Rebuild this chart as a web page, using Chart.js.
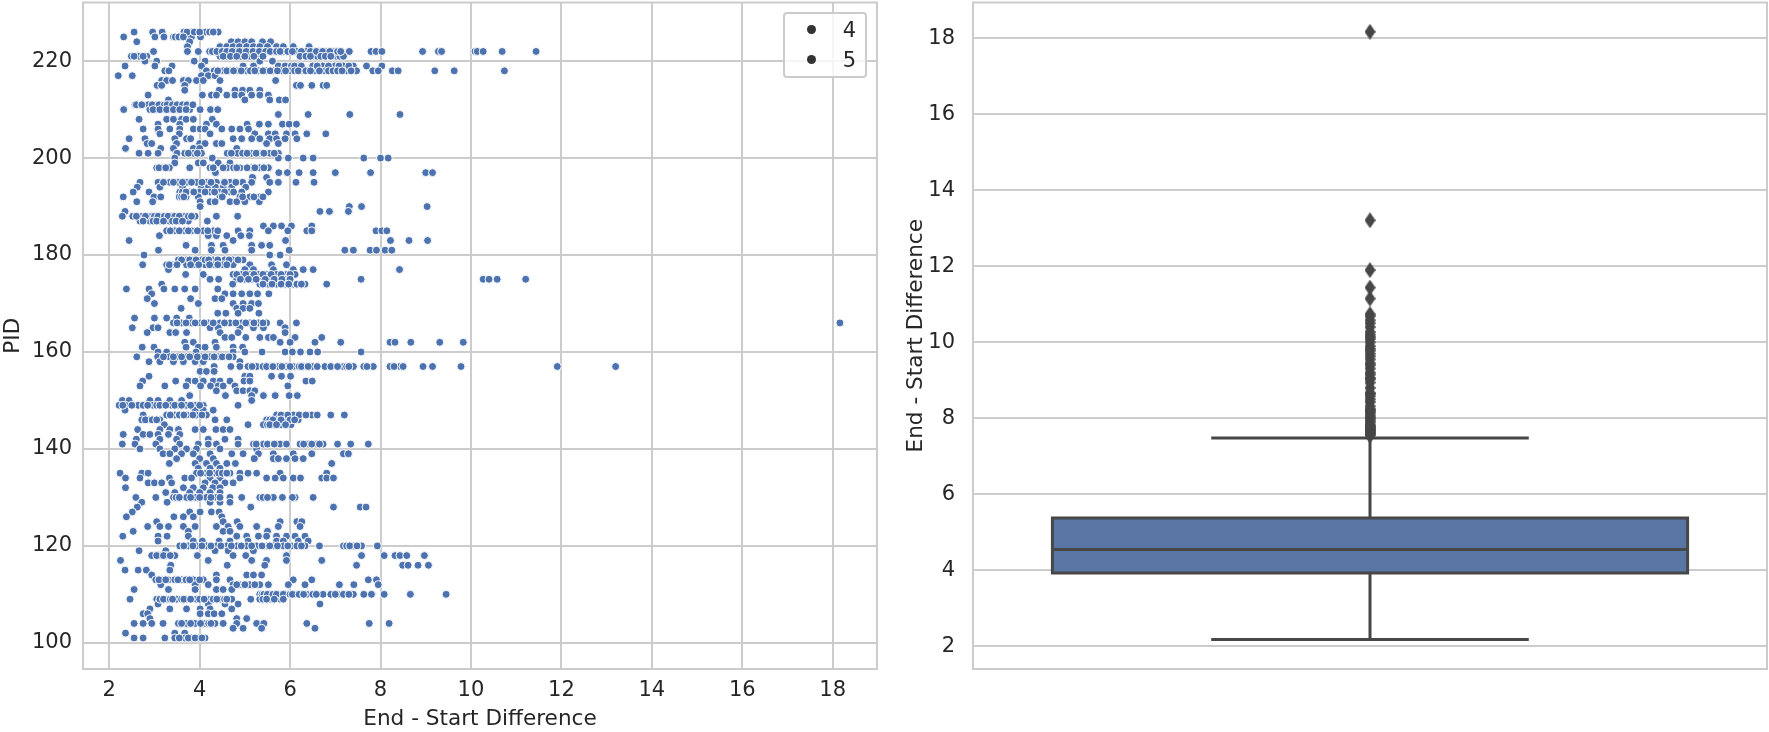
<!DOCTYPE html>
<html>
<head>
<meta charset="utf-8">
<title>End - Start Difference</title>
<script src="https://cdn.jsdelivr.net/npm/chart.js@4/dist/chart.umd.min.js"></script>
<style>
    html, body { margin: 0; background: #fff; }
    #page { position: relative; width: 1769px; height: 732px; overflow: hidden; }
    canvas { position: absolute; top: 0; }
    #scatter { left: 0; }
    #box { left: 890px; }
    #legend {
        position: absolute; left: 783px; top: 12px; width: 80px; height: 62px;
        background: rgba(255, 255, 255, .8); border: 2px solid #ccc; border-radius: 4px;
        font: 21px "DejaVu Sans"; color: #262626;
    }
    #legend div { position: absolute; left: 0; width: 71px; text-align: right; line-height: 24px; }
    #legend i {
        position: absolute; left: 22px; top: 7px; width: 9px; height: 9px;
        border-radius: 50%; background: #333;
    }
</style>
</head>
<body>
<div id="page">
    <canvas id="scatter" width="890" height="732"></canvas>
    <canvas id="box" width="879" height="732"></canvas>
    <div id="legend"></div>
</div>
<script>
const pids = [226,225,224,223,222,221,220,219,218,217,216,215,214,213,212,211,210,209,208,207,206,205,204,203,202,
    201,200,199,198,197,196,195,194,193,192,191,190,189,188,187,186,185,184,183,182,181,180,179,178,177,176,175,174,173,172,171,
    170,169,168,167,166,165,164,163,162,161,160,159,158,157,156,155,154,153,152,151,150,149,148,147,146,145,144,143,142,141,140,
    139,138,137,136,135,134,133,132,131,130,129,128,127,126,125,124,123,122,121,120,119,118,117,116,115,114,113,112,111,110,109,108,107,106,105,104,103,102,101];

// one row of differences per PID, same order as pids
const diffs = [
    [2.55,2.96,3.17,3.65,3.82,3.93,4.13,4.34,4.41],
    [2.32,3.01,3.21,3.42,3.49,3.58,3.71,3.82,4.02],
    [2.61,3.78,4.7,4.85,5,5.15,5.39,5.57],
    [3.73,4.45,4.6,4.74,4.88,5.04,5.19,5.33,5.5,5.7,5.85,6.07,6.42],
    [2.98,3.73,3.97,4.22,4.33,4.44,4.55,4.66,4.81,4.95,5.1,5.25,5.4,5.62,5.85,6.14,6.36,6.51,6.65,6.8,6.98,7.31,7.79,7.9,8.03,8.93,9.28,9.35,10.09,10.14,10.27,10.69,11.44],
    [2.49,2.66,2.83,4.45,4.6,4.74,4.9,5.11,5.3,6.29,6.4,6.51,6.6,6.73,6.85,6.95,7.03,7.1,7.18],
    [2.79,3.05,3.88,4.12,5.33,5.61],
    [2.35,3.01,3.39,4.04,4.96,5.19,5.74,5.89,6.03,6.18,6.5,6.72,6.99,7.18,7.4,7.69,8.03],
    [3.23,3.32,4.15,4.32,4.52,4.67,4.82,5.04,5.3,5.48,5.63,5.81,6,6.25,6.55,6.77,7.25,7.47,7.83,7.95,8.26,8.39,9.2,9.63,10.74],
    [2.2,2.51,4.04,4.19,4.34],
    [3.16,3.27,3.4,3.64,3.75,3.93,4.08,4.45,5.68],
    [3.06,3.16,3.67,6.14,6.23,6.48,6.73,6.81],
    [3.67,4.43,4.78,4.95,5.11,5.33],
    [2.86,4.06,4.26,4.37,4.6,4.78,4.93,5.15,5.33,5.52],
    [3.31,5,5.55,5.76,5.9],
    [2.57,2.66,2.86,3.04,3.14,3.34,3.45,3.56,3.67,3.78],
    [2.32,2.9,3.05,3.19,3.34,3.49,3.64,3.78,4.01,4.24,4.4],
    [5.74,6.4,7.32,8.43],
    [2.66,3.27,3.42,3.6,3.7,3.86,4.28],
    [3.08,3.56,4.15,4.37,5.05,5.32,5.52,5.83,5.98,6.14],
    [2.75,3.08,3.34,3.56,3.86,4.01,4.12,4.49,4.71,4.89,5.08],
    [3.12,3.55,4.23,5.22,5.52,5.67,5.92,6.11,6.37,6.79],
    [2.44,2.79,3.45,3.71,3.8,4.74,4.93,5.15,5.33,5.55,5.7,5.89,6.15],
    [2.84,2.94,3.49,4,4.12,4.37,4.49,5.48,5.74],
    [2.36,3.14,3.42,3.86,4,4.82],
    [2.66,2.86,3.08,3.5,3.67,3.86,4.04,4.61,4.84,5.15,5.33,5.55,5.74],
    [3.45,4.28,5.74,5.96,6.29,6.51,7.63,8,8.17],
    [3.45,3.97,4.08,4.41,4.67],
    [3.05,3.19,3.33,3.78,4.23,4.6,4.89,5.15,5.33,5.52],
    [4.35,5.75,5.94,6.2,6.51,7,7.78,9,9.15],
    [5.17,5.48],
    [2.68,3.08,3.34,3.53,3.71,3.93,4.15,4.37,4.67,4.95,5.15,5.55,5.74,6.13,6.53],
    [2.62,3.12,3.62,4.04,4.19,4.35,4.52,4.71,5.02],
    [2.53,2.88,3.56,3.78,4,4.23,4.45,4.67,4.93,5.52],
    [2.31,2.99,3.14,3.55,3.7,3.97,4.45,4.89,5.11,5.33],
    [2.61,2.96,4.01,4.23,4.34,4.67,4.82,5,5.32],
    [4.01,7.31,7.58,9.03],
    [2.35,6.66,6.87,7.29],
    [2.29,2.52,2.72,2.94,3.16,3.38,3.67,3.9,4.37,4.84],
    [2.68,2.9,3.12,3.33,3.55,3.75,4.17],
    [5.41,5.63,5.81,6.03,6.48],
    [3.27,3.45,3.67,3.82,4.08,4.3,4.85,5.11,5.52,5.95,6.37,6.48,7.9,8.03,8.14],
    [3.11,4.19,4.37,4.6,4.91,5.1],
    [2.44,4.74,5.9,8.22,8.63,9.04],
    [3.7,4.26,4.52,5.15,5.37,5.55],
    [3.09,3.9,4.26,4.56,5.15,5.98,7.21,7.4,7.77,7.91,8.1,8.25],
    [2.77,5.55,5.78],
    [3.53,3.71,3.84,4.04,4.3,4.56,4.73,4.96],
    [2.74,3.27,3.4,3.71,3.9,4.12,4.3,4.52,4.74,5.11,5.59,5.92],
    [3.31,5,5.19,5.63,6.07,6.29,6.51,8.42],
    [3.69,4.08,4.74,4.93,5.11,5.3,5.48,5.7,5.92,6.11],
    [4.23,4.42,4.82,5,5.15,5.33,5.55,5.74,5.92,7.57,10.27,10.4,10.58,11.21],
    [3.16,4.73,5.33,5.52,5.7,5.89,6.07,6.33,6.81],
    [2.38,2.88,3.21,3.45,3.67,3.9,4.4],
    [2.94,4.56,4.74,4.93,5.11,5.28,5.53],
    [2.84,3.8,4.34,4.49],
    [3,3.97,4.74,4.96,5.15,5.3],
    [3.59,4.82,4.96,5.11],
    [4.4,4.58,4.85,5.31],
    [2.56,3,3.27,3.49,3.77],
    [3.42,3.6,3.82,4.01,4.19,4.45,4.67,4.93,5.11,5.3,5.48,5.78,6.14,18.16],
    [2.51,2.97,3.08,4.23,4.41,4.89,5.19,5.41,5.89],
    [2.84,3.34,3.47,3.71,4.45,4.85,5.89],
    [4.56,4.71,5.02,5.33,5.52,5.63,6.11,6.7],
    [3.67,3.86,4.34,5.78,6,6.55,7.12,8.21,8.32,8.67,9.31,9.83],
    [2.73,2.99,3.7,3.97,4.12,4.37,4.74,4.95],
    [3.08,3.27,3.92,4.74,5,5.38,5.89,6.05,6.23,6.44,6.61,7.57],
    [2.61,3.07,3.33,3.5,3.71,3.86,4.04,4.23,4.41,4.56,4.74],
    [2.88,3.12,3.42,3.64,3.9,4.08,4.89],
    [4.32,4.69,4.89,5.07,5.26,5.54,5.74,5.92,6.07,6.33,6.49,6.77,7.18,7.4,7.63,7.84,8.21,8.43,8.94,9.15,9.78,11.91,13.2],
    [4.01,4.15,4.32],
    [2.88,5,5.11,5.59,5.81,6.01],
    [2.74,3.47,3.75,3.9,4.08,4.3,4.45,4.67,4.98,5.11,6.35,6.49],
    [2.68,3.23,3.7,4.02,4.24,4.41,4.52,4.78,5.95],
    [4.37,4.82,4.96,5.11,5.22],
    [3.78,4.57,5.15,5.41,5.67,5.98,6.16],
    [2.29,2.44,2.9,3.08,3.34,3.6,5.15],
    [2.22,2.36,2.64,2.97,3.19,3.38,3.53,3.7,3.91,4.08,4.85],
    [2.35,3.9,4.08,4.3],
    [2.75,3.27,3.45,3.71,3.93,4.15,5.7,6.07,6.48,6.9,7.2],
    [2.72,2.88,3.12,4.34,4.6,5.48,5.7,5.92,6.18],
    [3.22,5.07,5.41,5.63,5.81,6.02],
    [2.63,3.12,3.34,3.53,3.9,4.08,4.36,4.52,4.67],
    [2.31,2.75,2.9,3.08,3.31,3.56],
    [2.6,3.12,3.49,4.19,4.56,4.85],
    [2.29,2.57,3.03,3.56,3.97,4.19,4.37,4.85,5.19,5.41,5.78,5.92,6.22,6.4,6.58,6.73,7.05,7.34,7.73],
    [2.68,3.12,3.45,3.71,3.93,4.45,5.26],
    [3.19,3.34,3.6,3.86,4.23,4.71,4.96,5.3,5.63,6.07,6.48,7.18,7.29],
    [3.49,4,4.3,5.21,5.63,5.74,5.92,6.11,6.29],
    [3.33,3.9,4.15,4.37,4.6,4.79,6.92],
    [3.97,4.23,4.45],
    [2.24,2.72,2.86,3.93,4.15,4.34,4.67,4.89,5.07,5.26,5.78,6.81],
    [2.36,2.68,3.33,3.67,3.82,4.23,4.45,4.89,5.48,5.67,5.85,6.07,6.23,6.7,6.81,6.96],
    [2.86,3,3.16,3.38,4.12,4.34,4.56,4.74],
    [2.36,3.64,3.86,4.08,4.29,4.45],
    [3.25,3.45,3.78,4,4.23,4.45],
    [2.59,3.03,3.42,3.71,3.92,4.15,4.37,4.67,4.93,5.33,5.63,5.83,6.11,6.51],
    [2.72,3.28,4.23,4.45,4.67],
    [2.62,5.13,6.96,7.55,7.68],
    [2.51,3.78,4.01,4.26,4.43],
    [2.38,3.43,3.64,3.86,4.49],
    [3.05,4.52,4.83,5.78,6.15,6.26],
    [2.85,3.12,3.31,3.64,3.9,4.37,4.63,4.89,5.26,5.74,6.22],
    [2.53,3.75,4.52,4.67,5.5],
    [2.3,3.08,3.28,3.75,4.82,5.04,5.3,5.48,5.7,5.92,6.11,6.33],
    [3.08,3.86,4.06,4.43,4.67,5.07,5.7,5.85,6.18,6.4],
    [3.56,3.75,3.93,4.15,4.37,4.6,4.82,5.04,5.26,5.48,5.63,5.85,6.03,6.33,6.65,7.18,7.4,7.58,7.93],
    [2.66,3.25,4.34,4.63,5.19],
    [2.94,3.12,3.27,3.45,3.95,4.74,5.02,5.92,7.58,8.08,8.32,8.43,8.58,8.97],
    [2.25,4.19,5.15,5.48,5.92,6.7],
    [3.36,4.61,5.44,7.47,8.49,8.61,8.83,9.06],
    [2.35,2.64,2.82,3.34],
    [2.94,4.37,5.04,5.19,5.37],
    [3.03,3.16,3.31,3.6,3.86,4.08,4.37,4.67,6.07,6.48,7.73,7.91],
    [3.14,3.9,4.19,4.74,4.89,5.11,5.33,5.52,5.96,6.33,7.09,7.41,7.95],
    [2.55,3.31,3.9,4.37,4.52,4.71],
    [5.33,5.45,5.55,5.78,5.9,6.11,6.37,6.5,6.73,6.9,7.05,7.18,7.4,7.63,7.8,8.08,8.66,9.45],
    [2.46,3.05,3.27,3.49,3.71,3.93,4.23,4.45,4.71,5.13,5.33,5.55,5.78],
    [3.08,4.19,4.56,4.85,6.66],
    [2.9,3.34,3.71,4.01,4.23,4.71],
    [2.75,2.85,4.01,4.19,4.32,4.49],
    [2.9,4.82,5.04],
    [2.55,2.75,2.94,3.19,3.53,3.71,3.9,4.12,4.34,4.52,4.82,5.26,5.42,6.37,7.75,8.19],
    [4.74,4.96,5.37,6.55],
    [2.36,3.45,3.67],
    [2.55,2.75,3.23,3.45,3.67,3.82,3.97,4.12]
];

// the rows where dots run together, read from the overlapping chains
const densePids = [226,225,222,221,219,218,211,210,201,198,195,193,192,188,187,185,179,178,176,175,174,166,159,157,149,147,146,145,141,135,130,120,118,113,112,110,109,104,101];
const denseDiffs = [
    [3.72,3.88,4,4.22,4.3],
    [3.46,3.54,3.64],
    [4.28,4.38,4.5,4.6,4.72,4.88,5.03,5.18,5.32,5.46,5.56,5.7,5.78,5.95,6.05,6.25,6.45,6.58,6.72,6.88,7.05,7.12],
    [2.55,2.75,4.52,4.68,4.82,5,5.2,5.4,6.22,6.35,6.45,6.68,6.78,6.9],
    [6.1,6.25,6.6,6.85,7.08,7.3],
    [4.4,4.6,4.75,4.92,5.12,5.22,5.4,5.56,5.72,5.9,6.1,6.18,6.35,6.45,6.65,6.85,6.95,7.05,7.15,7.35],
    [2.6,2.72,2.95,3.1,3.22,3.28,3.4,3.5,3.62,3.72,3.85],
    [2.97,3.12,3.27,3.42,3.56,3.7],
    [3.75,3.95,4.7,4.95,5.05,5.25,5.42,5.65],
    [3.1,3.25,4.3,4.52,4.75,4.82,5.05,5.22,5.42],
    [3.2,3.42,3.62,3.82,4.05,4.25,4.55,4.8],
    [3.62,3.7,3.87,4.12,4.33,4.55,4.75],
    [3.6,3.65,4.5,4.95,5.2,5.4],
    [2.6,2.8,3,3.08,3.22,3.3,3.45,3.55,3.75,3.82],
    [2.75,2.97,3.05,3.2,3.4,3.48,3.62],
    [3.35,3.55,3.75,3.95,4.18,4.4],
    [3.6,3.78,3.92,4.12,4.2,4.4,4.65,4.85],
    [3.33,3.5,3.8,3.98,4.22,4.4,4.6],
    [4.82,5.02,5.2,5.4,5.58,5.8,6],
    [4.9,5.08,5.25,5.45,5.65,5.82,6],
    [5.4,5.6,5.8,5.97,6.15,6.25],
    [3.5,3.7,3.9,4.1,4.3,4.55,4.8,5.02,5.2,5.4],
    [3.2,3.42,3.6,3.78,3.95,4.12,4.32,4.5,4.65],
    [5.16,5.4,5.48,5.62,5.82,6,6.2,6.25,6.4,6.6,6.9,7.05,7.25,7.3,7.7,8.3,8.5],
    [2.3,2.5,2.75,2.85,3.05,3.12,3.25,3.45,3.6,3.8,4],
    [3.35,3.55,3.65,3.85,4.05,5.8,5.95,6.2,6.35,6.6],
    [2.8,2.95,3.05,5.55,5.62,5.8,6,6.1],
    [5.5,5.55,5.7,5.9],
    [5.25,5.5,5.65,6.3,6.48,6.65],
    [4.02,4.22,4.42,4.5,4.6],
    [3.48,3.55,3.8,4,4.25,4.45,5.4,5.5,6.05],
    [3.65,3.85,4.05,4.25,4.47,4.7,4.92,5.15,5.38,5.55,5.72,5.95,6.15,6.25,7.25,7.32,7.48],
    [3.05,3.2,3.35],
    [3.1,3.25,3.45,3.52,3.7,3.78,4],
    [4.82,5,5.22],
    [5.38,5.42,5.5,5.62,5.7,5.85,6,6.05,6.2,6.3,6.58,7,7.3],
    [3.12,3.2,3.35,3.4,3.6,3.65,3.8,4,4.1,4.3,4.38,4.55,4.6,5.4,5.48,5.65,5.85],
    [3.6,3.8,4.02,4.2,4.25],
    [3.55,3.75,3.9,4.05]
];

const legendLabels = ['4', '5'];
const xTickValues = [2, 4, 6, 8, 10, 12, 14, 16, 18];
const pidTickValues = [100, 120, 140, 160, 180, 200, 220];
const diffTickValues = [2, 4, 6, 8, 10, 12, 14, 16, 18];

// box plot numbers
const boxLow = 3.93;
const boxMedian = 4.55;
const boxHigh = 5.38;
const whiskerLow = 2.18;
const whiskerHigh = 7.48;
const fliers = [7.55,7.58,7.6,7.63,7.65,7.68,7.7,7.73,7.75,7.78,7.8,7.84,7.9,7.95,8,8.03,8.08,8.14,8.19,8.21,8.25,8.32,8.43,8.5,8.58,8.64,8.67,8.8,8.94,9.03,9.06,9.15,9.2,9.31,9.4,9.45,9.55,9.63,9.7,9.78,9.83,9.9,10,10.09,10.14,10.2,10.27,10.4,10.5,10.58,10.69,10.74,11.15,11.44,11.9,13.21,18.17];

const textColor = '#262626';
const gridColor = '#cccccc';
const darkLine = '#474747';
const tickFont = {family: '"DejaVu Sans"', size: 21};
const titleFont = {family: '"DejaVu Sans"', size: 21.6};

let scatterPoints = [];
pids.forEach((pid, i) => {
    diffs[i].forEach(d => scatterPoints.push({x: d, y: pid}));
});
densePids.forEach((pid, i) => {
    denseDiffs[i].forEach(d => scatterPoints.push({x: d, y: pid}));
});

// top and right spines are not drawn by the scales
const frame = {
    id: 'frame',
    beforeDatasetsDraw(chart) {
        let a = chart.chartArea, ctx = chart.ctx;
        ctx.save();
        ctx.strokeStyle = gridColor;
        ctx.lineWidth = 2;
        ctx.strokeRect(a.left, a.top, a.right - a.left, a.bottom - a.top);
        ctx.restore();
    }
};

// pins the plot area, labels may hang over without pushing it
function fixedSize(prop, size) {
    return scale => {
        scale[prop] = size;
        scale.paddingTop = 0;
        scale.paddingBottom = 0;
        scale.paddingLeft = 0;
        scale.paddingRight = 0;
    };
}

function setTicks(values) {
    return scale => { scale.ticks = values.map(v => ({value: v})); };
}

new Chart(document.getElementById('scatter'), {
    type: 'scatter',
    data: {
        datasets: [{
            data: scatterPoints,
            pointRadius: 4,
            pointHoverRadius: 4,
            pointBackgroundColor: '#4c72b0',
            pointBorderColor: '#ffffff',
            pointBorderWidth: 1
        }]
    },
    plugins: [frame],
    options: {
        responsive: false,
        animation: false,
        layout: {autoPadding: false, padding: {top: 2.5, right: 13, left: 0, bottom: 0}},
        plugins: {legend: {display: false}, tooltip: {enabled: false}},
        scales: {
            x: {
                type: 'linear',
                min: 1.42,
                max: 18.98,
                afterBuildTicks: setTicks(xTickValues),
                afterFit: fixedSize('height', 63),
                grid: {color: gridColor, lineWidth: 2, drawTicks: false},
                border: {display: false},
                ticks: {color: textColor, font: tickFont, padding: 9, maxRotation: 0},
                title: {display: true, text: 'End - Start Difference', color: textColor, font: titleFont, padding: {top: 7, bottom: 0}}
            },
            y: {
                min: 94.6,
                max: 232.1,
                afterBuildTicks: setTicks(pidTickValues),
                afterFit: fixedSize('width', 83),
                grid: {color: gridColor, lineWidth: 2, drawTicks: false},
                border: {display: false},
                ticks: {color: textColor, font: tickFont, padding: 11},
                title: {display: true, text: 'PID', color: textColor, font: titleFont, padding: {top: 0, bottom: 0}}
            }
        }
    }
});

// thin diamond for the fliers, Chart.js only has the square one
let diamond = document.createElement('canvas');
diamond.width = 11;
diamond.height = 16;
let dctx = diamond.getContext('2d');
dctx.fillStyle = darkLine;
dctx.beginPath();
dctx.moveTo(5.5, 0);
dctx.lineTo(11, 8);
dctx.lineTo(5.5, 16);
dctx.lineTo(0, 8);
dctx.closePath();
dctx.fill();

function lineSet(points) {
    return {
        data: points,
        showLine: true,
        pointRadius: 0,
        borderColor: darkLine,
        borderWidth: 3,
        order: 1
    };
}

new Chart(document.getElementById('box'), {
    type: 'scatter',
    data: {
        datasets: [
            {
                // box body, the top edge filled down to the lower quartile
                data: [{x: -0.4, y: boxHigh}, {x: 0.4, y: boxHigh}],
                showLine: true,
                pointRadius: 0,
                borderWidth: 0,
                fill: {target: {value: boxLow}},
                backgroundColor: '#5875a4',
                order: 2
            },
            lineSet([{x: -0.4, y: boxLow}, {x: 0.4, y: boxLow}, {x: 0.4, y: boxHigh}, {x: -0.4, y: boxHigh}, {x: -0.4, y: boxLow}, {x: 0.4, y: boxLow}]),
            lineSet([{x: -0.4, y: boxMedian}, {x: 0.4, y: boxMedian}]),
            lineSet([{x: 0, y: boxHigh}, {x: 0, y: whiskerHigh}]),
            lineSet([{x: 0, y: boxLow}, {x: 0, y: whiskerLow}]),
            lineSet([{x: -0.2, y: whiskerHigh}, {x: 0.2, y: whiskerHigh}]),
            lineSet([{x: -0.2, y: whiskerLow}, {x: 0.2, y: whiskerLow}]),
            {
                data: fliers.map(v => ({x: 0, y: v})),
                pointStyle: diamond,
                pointRadius: 8,
                order: 0
            }
        ]
    },
    plugins: [frame],
    options: {
        responsive: false,
        animation: false,
        layout: {autoPadding: false, padding: {top: 2.5, right: 2, left: 0, bottom: 63}},
        plugins: {legend: {display: false}, tooltip: {enabled: false}},
        scales: {
            x: {type: 'linear', display: false, min: -0.5, max: 0.5},
            y: {
                min: 1.405,
                max: 18.94,
                afterBuildTicks: setTicks(diffTickValues),
                afterFit: fixedSize('width', 83),
                grid: {color: gridColor, lineWidth: 2, drawTicks: false},
                border: {display: false},
                ticks: {color: textColor, font: tickFont, padding: 18},
                title: {display: true, text: 'End - Start Difference', color: textColor, font: titleFont, padding: {top: 13, bottom: 0}}
            }
        }
    }
});

let legend = document.getElementById('legend');
legendLabels.forEach((label, i) => {
    let row = document.createElement('div');
    row.style.top = (4 + i * 30) + 'px';
    row.innerHTML = '<i></i>' + label;
    legend.appendChild(row);
});
</script>
</body>
</html>
